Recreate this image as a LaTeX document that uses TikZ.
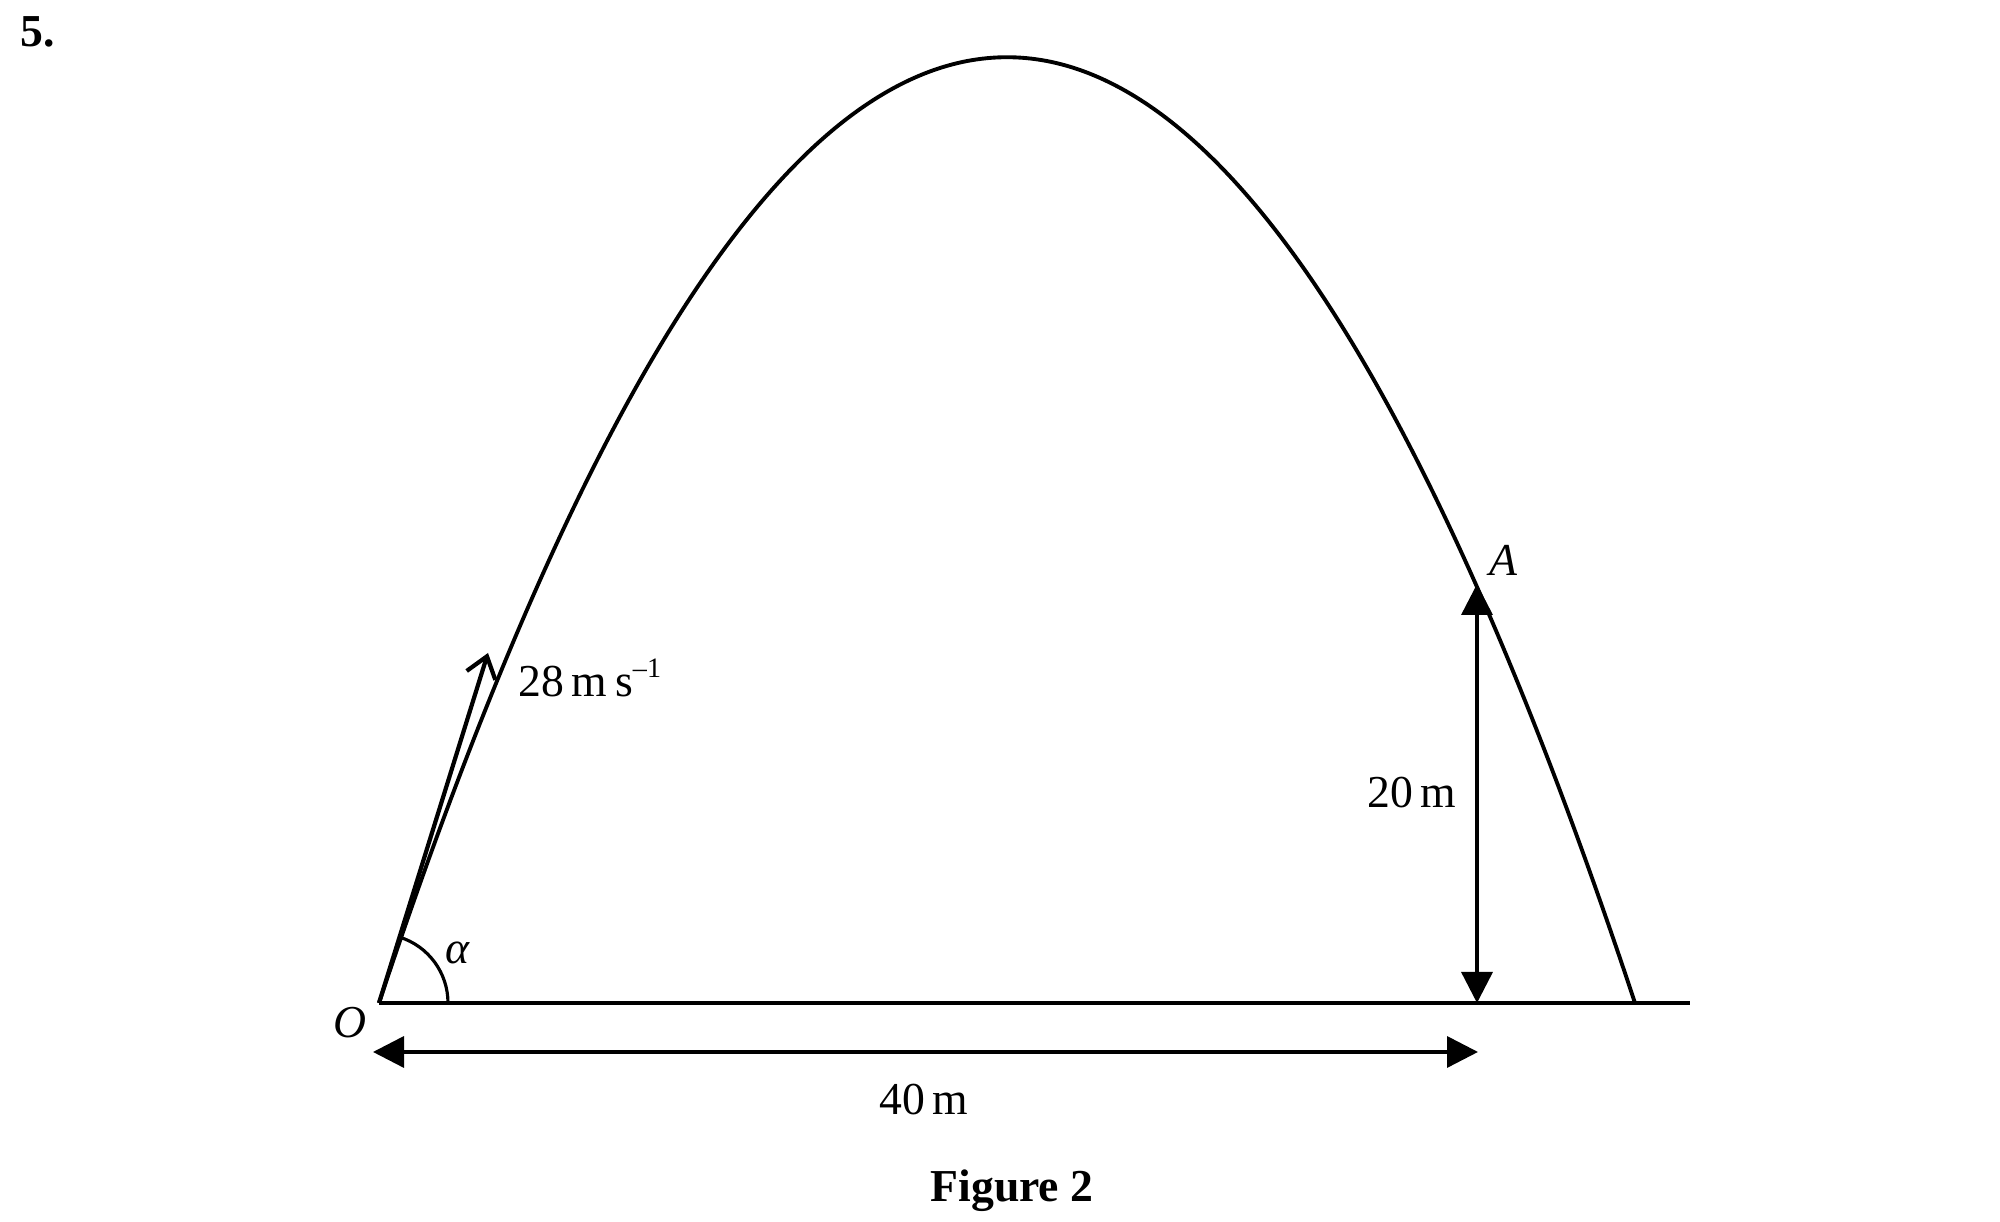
\documentclass[tikz,border=0pt]{standalone}
\usepackage{fontspec}
\setmainfont{Liberation Serif}
\usetikzlibrary{arrows.meta}

\tikzset{
    lbl/.style={font=\fontsize{13}{16}\selectfont, inner sep=0pt},
    boldlbl/.style={font=\fontsize{13}{16}\selectfont\bfseries, inner sep=0pt},
    dimarrow/.style={line width=1pt, {Triangle[length=0.31cm,width=0.31cm]}-{Triangle[length=0.31cm,width=0.31cm]}},
    trajline/.style={line width=1.1pt}
}

\begin{document}
\begin{tikzpicture}
        \useasboundingbox (0,0) rectangle (20,12.22);

        % Question number
        \node[boldlbl] (qnum) at (0.38,11.90) {5.};

        % Points
        \coordinate (O) at (3.79,2.19);
        \coordinate (B) at (16.35,2.19);
        \coordinate (G) at (16.90,2.19);
        \coordinate (A) at (14.77,6.38);
        \coordinate (Afoot) at (14.77,2.19);
        \coordinate (V) at (4.88,5.69);

        % Ground and trajectory
        \draw[trajline] (O) -- (G);
        \draw[trajline] (O) .. controls (7.977,14.80) and (12.163,14.80) .. (B);

        % Initial velocity
        \draw[line width=1.2pt, -{Straight Barb[length=0.2cm,width=0.3cm]}] (O) -- (V);
        \node[lbl, anchor=west] (speed) at (5.18,5.44) {28\,m\,s\raisebox{0.9ex}{\fontsize{8}{9}\selectfont –1}};

        % Angle of projection
        \draw[line width=0.9pt] ([shift={(0:0.69)}]O) arc (0:72.7:0.69);
        \node[lbl] (alpha) at (4.58,2.69) {\textit{α}};

        % Height of A
        \draw[dimarrow] (Afoot) -- (A);
        \node[lbl, anchor=east] (hA) at (14.57,4.29) {20\,m};
        \node[lbl] (Alabel) at (15.04,6.62) {\textit{A}};

        % Horizontal distance
        \coordinate (D1) at (3.73,1.70);
        \coordinate (D2) at (14.78,1.70);
        \draw[dimarrow] (D1) -- (D2);
        \node[lbl] (dist) at (9.24,1.22) {40\,m};
        \node[lbl] (Olabel) at (3.50,1.99) {\textit{O}};

        % Caption
        \node[boldlbl] (caption) at (10.12,0.31) {Figure 2};

    \end{tikzpicture}
\end{document}
